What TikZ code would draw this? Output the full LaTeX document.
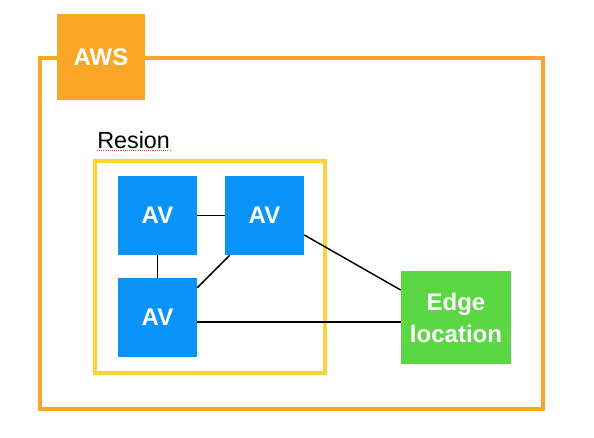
\documentclass[tikz,border=0pt]{standalone}
\usepackage{fontspec}
\setmainfont{Liberation Sans}
\definecolor{awsorange}{HTML}{F9A526}
\definecolor{regionyellow}{HTML}{FDD33C}
\definecolor{avblue}{HTML}{0A93F8}
\definecolor{edgegreen}{HTML}{5AD743}
\definecolor{spellred}{HTML}{E0453A}
\begin{document}
\begin{tikzpicture}[x=0.75pt,y=0.75pt,yscale=-1,
	box/.style={inner sep=0pt, text=white, font=\fontsize{18pt}{24pt}\selectfont\bfseries, align=center},
	avbox/.style={box, fill=avblue, minimum width=59.25pt, minimum height=59.25pt},
	link/.style={draw=black, line width=1.1pt}]
	\useasboundingbox (0,0) rectangle (594,437);
	
	%Shape: Rectangle [outer AWS frame]
	\draw [awsorange, line width=3pt] (40,58) rectangle (543,409) ;
	%Shape: Rectangle [region frame]
	\draw [regionyellow, line width=2.6pt] (95,161) rectangle (325,373) ;
	
	% AWS label
	\node [box, fill=awsorange, minimum width=66pt, minimum height=64.5pt] (aws) at (101,57) {AWS};
	% Region label
	\node [anchor=base west, inner sep=0pt, font=\fontsize{17.5pt}{20pt}\selectfont] (region) at (97,148) {Resion};
	\draw [spellred, line width=0.8pt, dash pattern=on 0.8pt off 0.8pt] (region.base west) ++(0,2.5) -- ++(73,0) ;
	
	% AV nodes
	\node [avbox] (av1) at (157.5,215.5) {AV};
	\node [avbox] (av2) at (264.5,215.5) {AV};
	\node [avbox] (av3) at (157.5,317.5) {AV};
	% Edge location
	\node [box, fill=edgegreen, minimum width=82.5pt, minimum height=69.75pt] (edge) at (456,317.5) {Edge\\location};
	
	%Straight Lines (shifts are flipped by yscale=-1)
	\draw [link] (av1) -- (av2) ;
	\draw [link] (av1) -- (av3) ;
	\draw [link] ([yshift=7.5pt]av3.north east) -- ([xshift=3.75pt]av2.south west) ;
	\draw [link] ([yshift=14.6pt]av2.east) -- ([yshift=-20.6pt]edge.west) ;
	\draw [link] ([yshift=3.4pt]av3.east) -- ([yshift=3.4pt]edge.west) ;
	
\end{tikzpicture}
\end{document}
